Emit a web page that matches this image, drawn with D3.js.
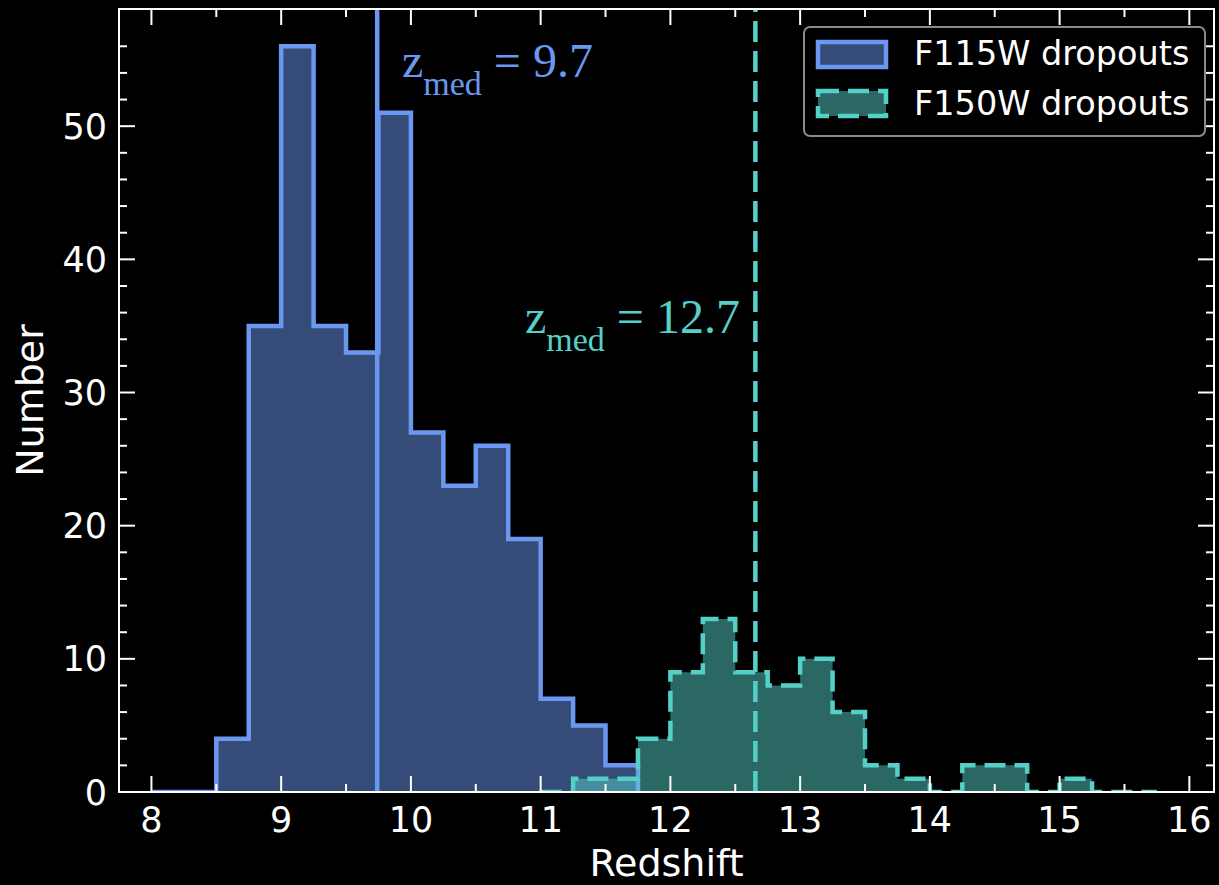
<!DOCTYPE html>
<html>
  <head>
    <meta charset="utf-8" />
    <title>Redshift histogram</title>
    <script src="https://d3js.org/d3.v7.min.js"></script>
    <style>
      body {
        margin: 0;
        background: #000;
      }
      svg {
        display: block;
        background: #000;
      }
      .tick-label {
        fill: #fff;
        font-family: "DejaVu Sans", sans-serif;
        font-size: 35px;
      }
      .axis-title {
        fill: #fff;
        font-family: "DejaVu Sans", sans-serif;
        font-size: 38px;
      }
      .legend text {
        fill: #fff;
        font-family: "DejaVu Sans", sans-serif;
        font-size: 33.5px;
      }
      .med-label {
        font-family: "Liberation Serif", "Times New Roman", serif;
        font-size: 48px;
      }
    </style>
  </head>
  <body>
    <svg width="1219" height="885"></svg>
    <script>
      // bin edges and counts
      const edgesF115 = [8, 8.25, 8.5, 8.75, 9, 9.25, 9.5, 9.75, 10, 10.25, 10.5, 10.75, 11, 11.25, 11.5, 11.75];
      const countsF115 = [0, 0, 4, 35, 56, 35, 33, 51, 27, 23, 26, 19, 7, 5, 2];
      const edgesF150 = [11, 11.25, 11.5, 11.75, 12, 12.25, 12.5, 12.75, 13, 13.25, 13.5, 13.75, 14, 14.25, 14.5, 14.75, 15, 15.25, 15.5, 15.75];
      const countsF150 = [0, 1, 1, 4, 9, 13, 9, 8, 10, 6, 2, 1, 0, 2, 2, 0, 1, 0, 0];
      const medians = [9.74, 12.655];
      const medLabels = ["9.7", "12.7"];
      const seriesNames = ["F115W dropouts", "F150W dropouts"];
      const xTicks = [8, 9, 10, 11, 12, 13, 14, 15, 16];
      const yTicks = [0, 10, 20, 30, 40, 50];

      const blue = "#6a98f0";
      const teal = "#55d0c8";

      const svg = d3.select("svg");
      const pL = 119, pR = 1214, pT = 9, pB = 792;

      const x = d3.scaleLinear().domain([7.75, 16.19]).range([pL, pR]);
      const y = d3.scaleLinear().domain([0, 58.8]).range([pB, pT]);

      svg.append("defs").append("clipPath").attr("id", "plot")
        .append("rect")
        .attr("x", pL).attr("y", pT)
        .attr("width", pR - pL).attr("height", pB - pT);

      const plot = svg.append("g").attr("clip-path", "url(#plot)");

      // step outline path (open, starts and ends on the baseline)
      function stepPoints(edges, counts) {
        const pts = [[edges[0], 0]];
        counts.forEach((c, i) => {
          pts.push([edges[i], c]);
          pts.push([edges[i + 1], c]);
        });
        pts.push([edges[edges.length - 1], 0]);
        return pts;
      }
      const line = d3.line().x((d) => x(d[0])).y((d) => y(d[1]));

      function drawHist(edges, counts, color, dashed) {
        const pts = stepPoints(edges, counts);
        plot.append("path")
          .attr("d", line(pts) + "Z")
          .attr("fill", color)
          .attr("fill-opacity", 0.5)
          .attr("stroke", "none");
        plot.append("path")
          .attr("d", line(pts))
          .attr("fill", "none")
          .attr("stroke", color)
          .attr("stroke-width", 4.5)
          .attr("stroke-dasharray", dashed ? "21,9" : null);
      }

      drawHist(edgesF115, countsF115, blue, false);
      drawHist(edgesF150, countsF150, teal, true);

      // median lines
      plot.append("line")
        .attr("x1", x(medians[0])).attr("x2", x(medians[0]))
        .attr("y1", pB).attr("y2", pT)
        .attr("stroke", blue).attr("stroke-width", 4.5);
      plot.append("line")
        .attr("x1", x(medians[1])).attr("x2", x(medians[1]))
        .attr("y1", pB).attr("y2", pT)
        .attr("stroke", teal).attr("stroke-width", 4.5)
        .attr("stroke-dasharray", "21,9");

      function medText(px, py, label, color) {
        const t = svg.append("text").attr("class", "med-label")
          .attr("x", px).attr("y", py).attr("fill", color);
        t.append("tspan").text("z");
        t.append("tspan").attr("dy", 18).attr("font-size", 34).text("med");
        t.append("tspan").attr("dy", -18).text(" = " + label);
      }
      medText(402, 77, medLabels[0], blue);
      medText(525, 333, medLabels[1], teal);

      // ticks: inward on all four sides
      const ax = svg.append("g").attr("stroke", "#fff").attr("stroke-width", 2);
      const xMinor = d3.range(8, 16.01, 0.5).filter((v) => !xTicks.includes(v));
      const yMinor = d3.range(0, 58, 2).filter((v) => !yTicks.includes(v));

      xTicks.forEach((v) => {
        ax.append("line").attr("x1", x(v)).attr("x2", x(v)).attr("y1", pB).attr("y2", pB - 16);
        ax.append("line").attr("x1", x(v)).attr("x2", x(v)).attr("y1", pT).attr("y2", pT + 16);
      });
      xMinor.forEach((v) => {
        ax.append("line").attr("x1", x(v)).attr("x2", x(v)).attr("y1", pB).attr("y2", pB - 8);
        ax.append("line").attr("x1", x(v)).attr("x2", x(v)).attr("y1", pT).attr("y2", pT + 8);
      });
      yTicks.forEach((v) => {
        ax.append("line").attr("x1", pL).attr("x2", pL + 16).attr("y1", y(v)).attr("y2", y(v));
        ax.append("line").attr("x1", pR).attr("x2", pR - 16).attr("y1", y(v)).attr("y2", y(v));
      });
      yMinor.forEach((v) => {
        ax.append("line").attr("x1", pL).attr("x2", pL + 8).attr("y1", y(v)).attr("y2", y(v));
        ax.append("line").attr("x1", pR).attr("x2", pR - 8).attr("y1", y(v)).attr("y2", y(v));
      });

      // frame
      svg.append("rect")
        .attr("x", pL).attr("y", pT)
        .attr("width", pR - pL).attr("height", pB - pT)
        .attr("fill", "none").attr("stroke", "#fff").attr("stroke-width", 2);

      // tick labels
      svg.selectAll(".xlab").data(xTicks).enter().append("text")
        .attr("class", "tick-label")
        .attr("x", (d) => x(d)).attr("y", 832)
        .attr("text-anchor", "middle")
        .text((d) => d);
      svg.selectAll(".ylab").data(yTicks).enter().append("text")
        .attr("class", "tick-label")
        .attr("x", 107).attr("y", (d) => y(d) + 12.5)
        .attr("text-anchor", "end")
        .text((d) => d);

      // axis titles
      svg.append("text").attr("class", "axis-title")
        .attr("x", (pL + pR) / 2).attr("y", 876)
        .attr("text-anchor", "middle").text("Redshift");
      svg.append("text").attr("class", "axis-title")
        .attr("transform", `translate(43,${(pT + pB) / 2}) rotate(-90)`)
        .attr("text-anchor", "middle").text("Number");

      // legend
      const lg = svg.append("g").attr("class", "legend");
      lg.append("rect")
        .attr("x", 804).attr("y", 27).attr("width", 401).attr("height", 109)
        .attr("rx", 6).attr("fill", "#000").attr("stroke", "#8a8a8a").attr("stroke-width", 2);
      [blue, teal].forEach((c, i) => {
        lg.append("rect")
          .attr("x", 818).attr("y", 42 + i * 49).attr("width", 68).attr("height", 25)
          .attr("fill", c).attr("fill-opacity", 0.5)
          .attr("stroke", c).attr("stroke-width", 4.5)
          .attr("stroke-dasharray", i === 1 ? "21,9" : null);
        lg.append("text").attr("x", 914).attr("y", 65 + i * 50).text(seriesNames[i]);
      });
    </script>
  </body>
</html>
